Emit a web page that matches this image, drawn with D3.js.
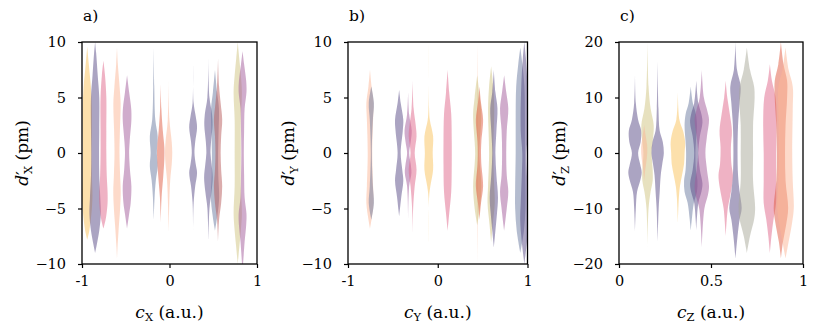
<!DOCTYPE html>
<html>
<head>
<meta charset="utf-8">
<script src="https://cdn.jsdelivr.net/npm/d3@7"></script>
<style>
  body { margin: 0; background: #fff; }
</style>
</head>
<body>
<div id="chart"></div>
<script>
// ---- data ----
var panelLabels = ["a)", "b)", "c)"];
var axisNames = ["X", "Y", "Z"];
var xDomains = [[-1, 1], [-1, 1], [0, 1]];
var yDomains = [[-10, 10], [-10, 10], [-20, 20]];
var xTicks = [[-1, 0, 1], [-1, 0, 1], [0, 0.5, 1]];
var xTickLabels = [["-1", "0", "1"], ["-1", "0", "1"], ["0", "0.5", "1"]];
var yTicks = [[-10, -5, 0, 5, 10], [-10, -5, 0, 5, 10], [-20, -10, 0, 10, 20]];

var palette = {
    yellow: "#f9c25a",
    purple: "#574a85",
    pink: "#e0668a",
    peach: "#fcb596",
    mauve: "#a25a9a",
    slate: "#6a7aa0",
    salmon: "#e05a40",
    rose: "#b85a5a",
    grey: "#a8a898",
    khaki: "#cfc480"
};

// each violin: centre on the x axis, colour, profile [[y, relative half width], ...]
var violinsA = [
    { c: -0.94, col: "yellow", p: [[9.6,0],[8,1.5],[6,3.5],[4,4.5],[2,4.5],[0,4.3],[-2,4.5],[-4,5],[-5.5,4],[-7,2],[-7.8,0]] },
    { c: -0.85, col: "purple", p: [[10,0],[9,1],[7,2.5],[5,4],[2,4],[0,3.8],[-2,4],[-4,5],[-5.5,5.5],[-7,4],[-8.3,1.5],[-9,0]] },
    { c: -0.755, col: "pink", p: [[8.3,0],[7,1.5],[5,2.8],[2,2.8],[0,2.8],[-2,3.2],[-3.5,4],[-4.5,4],[-5.8,2.5],[-6.8,0]] },
    { c: -0.6, col: "peach", p: [[9.5,0],[8,0.8],[6,2.5],[4.5,3.5],[2,2.8],[0,2.4],[-2,3],[-3.5,3.6],[-5,3],[-7,1.5],[-8.5,0.5],[-9.5,0]] },
    { c: -0.485, col: "mauve", p: [[7,0],[5.5,2],[4,4],[3,4.2],[1,2.5],[0,2],[-1.5,2.8],[-3,4.2],[-4.5,3.5],[-5.5,2],[-6.8,0]] },
    { c: -0.18, col: "slate", p: [[9.5,0],[6,0.5],[3,1.5],[1.5,3.8],[0,3],[-1.2,3.8],[-2.5,2],[-4,0.8],[-6,0]] },
    { c: -0.1, col: "salmon", p: [[6.2,0],[4,0.6],[2,2],[0.5,3.5],[-0.5,3.5],[-2,2.5],[-4,0.8],[-6.3,0]] },
    { c: -0.01, col: "peach", p: [[6.5,0],[3,0.8],[1,3],[0,3.5],[-1,3],[-2.5,1.5],[-5,0.5],[-7,0]] },
    { c: 0.27, col: "purple", p: [[8,0],[4.5,0.5],[3.3,2.5],[2.3,3.8],[1,2],[0,1.3],[-1,2.5],[-1.8,3.8],[-3,2],[-4.5,0.5],[-7,0]] },
    { c: 0.445, col: "purple", p: [[8.5,0],[5,1],[3.5,3.5],[2.5,4],[1,2.5],[0,2],[-1,3],[-2.2,4.2],[-3.5,3],[-5,1],[-7.8,0]] },
    { c: 0.52, col: "slate", p: [[7.5,0],[5.5,2],[4,3.8],[2,3.5],[0,3],[-2,3.2],[-4,4],[-5.5,2.5],[-7,0]] },
    { c: 0.555, col: "rose", p: [[8.5,0],[6,1],[4.5,2.5],[3,4],[1.5,3],[0,2.5],[-1.5,3],[-3,4],[-4.5,3],[-6,1],[-8,0]] },
    { c: 0.78, col: "khaki", p: [[10,0],[8.5,1.5],[7,3],[5.5,4],[3,3],[0,3],[-3,3],[-5.5,4],[-7,3],[-8.5,1.5],[-10,0]] },
    { c: 0.835, col: "mauve", p: [[9.2,0],[8,1.5],[6.5,3.5],[5.5,3.8],[4,2],[2,1.5],[0,1.2],[-2,1.5],[-4,2],[-5.5,3.8],[-6.5,3.5],[-8,2],[-10,0.5]] }
];

var violinsB = [
    { c: -0.755, col: "peach", p: [[7.5,0],[6,1.5],[4.5,3.5],[3,3],[0,2.2],[-3,3],[-4.5,3.5],[-6,1.5],[-6.8,0]] },
    { c: -0.74, col: "slate", p: [[6,0],[4.5,2.5],[3,1.5],[0,0.5],[-3,1.5],[-4.5,2.5],[-6,0]] },
    { c: -0.43, col: "purple", p: [[5.7,0],[4.5,1.5],[3,4],[2,3.5],[0,1.5],[-1.5,3],[-2.5,4],[-4,2],[-5.7,0]] },
    { c: -0.33, col: "mauve", p: [[5.5,0],[3.5,1],[2,3.5],[1,2.5],[0,1],[-1,2.5],[-1.8,3.2],[-3,1],[-6,0]] },
    { c: -0.28, col: "pink", p: [[6.5,0],[4,1],[2.5,3],[1.5,3.8],[0,2],[-1.5,3.8],[-3,2],[-5,0.5],[-7.5,0]] },
    { c: -0.1, col: "yellow", p: [[10,0],[4,0.3],[3,1],[1.5,4.2],[0,3.8],[-1.5,4.2],[-3,1.5],[-4,0.3],[-8,0]] },
    { c: 0.11, col: "pink", p: [[7.5,0],[5.5,1.5],[3.5,3.5],[1,4],[-1,4],[-3.5,3.5],[-5.5,1.5],[-7,0]] },
    { c: 0.445, col: "peach", p: [[9.8,0],[5,0.3],[0,0.3],[-5,0.3],[-9.8,0]] },
    { c: 0.44, col: "khaki", p: [[7,0],[5,2.5],[3.5,4],[1,2.5],[0,2],[-1,2.5],[-3,4],[-5,2.5],[-6.5,0]] },
    { c: 0.465, col: "salmon", p: [[6,0],[4.5,1.5],[3,3.5],[1,1.8],[0,1.5],[-1,1.8],[-3,3.5],[-4.5,1.5],[-6,0]] },
    { c: 0.595, col: "khaki", p: [[7.8,0],[6,2],[4,3],[0,2],[-3,3],[-4.5,3.5],[-6.5,1.5],[-8,0]] },
    { c: 0.625, col: "purple", p: [[7.5,0],[5.5,1.5],[4,3.5],[2,2.5],[0,1.5],[-2,2.5],[-4,4],[-5.5,3],[-7,1.5],[-8.5,0]] },
    { c: 0.74, col: "mauve", p: [[7,0],[5.5,2],[4,4],[2,2.5],[0,2],[-2,2.5],[-3.5,4],[-5,2.5],[-7,0]] },
    { c: 0.92, col: "slate", p: [[9.5,0],[8,2],[6,4],[3,4.5],[0,4.5],[-3,5],[-5,5],[-7,3.5],[-9,0]] },
    { c: 0.965, col: "purple", p: [[10,0],[8.5,1.5],[6,3],[2,3.5],[0,2],[-2,2.5],[-4.5,3.5],[-6,4],[-8,2.5],[-10,0]] }
];

var violinsC = [
    { c: 0.087, col: "purple", p: [[14,0],[9,0.8],[6,3],[4,6],[2,5.5],[0,3],[-2,5],[-3.5,6.5],[-5,5],[-7,2],[-10,0.8],[-14,0]] },
    { c: 0.155, col: "khaki", p: [[20,0],[12,1],[8,3],[5,6],[2,5],[0,4],[-3,5],[-5,5],[-7,3],[-10,1],[-17,0]] },
    { c: 0.137, col: "peach", p: [[5,0],[3,1.5],[1,3],[-1,2.5],[-3,1],[-5,0]] },
    { c: 0.21, col: "purple", p: [[16.5,0],[8,0.8],[4,2],[2,5],[0,6],[-2,4.5],[-4,3],[-7,2],[-10,1],[-16,0]] },
    { c: 0.32, col: "yellow", p: [[11,0],[6,1.5],[4,5],[2,7],[0,6.5],[-2,6],[-4,4],[-6,2],[-8.5,0.8],[-12.5,0]] },
    { c: 0.39, col: "slate", p: [[12,0],[9,2],[7,5],[5,6],[2,5],[0,4.5],[-3,5],[-5,6.5],[-7,6],[-9,3],[-12,1],[-14,0]] },
    { c: 0.42, col: "purple", p: [[13,0],[9,2],[7,5],[5.5,6],[3,3.5],[0,2],[-3,3.5],[-5.5,6],[-7,5],[-9,2],[-14,0]] },
    { c: 0.45, col: "mauve", p: [[15,0],[10,2],[7.5,5.5],[6,7],[3,5],[0,3.5],[-3,5],[-6,7],[-7.5,6],[-10,2.5],[-17,0]] },
    { c: 0.58, col: "pink", p: [[13,0],[10,1.5],[7,4],[4,6],[1,5],[-2,5.5],[-4,7],[-6,6],[-8,4],[-10,2],[-15,0]] },
    { c: 0.633, col: "purple", p: [[20,0],[15,1.5],[12,5],[9,4],[5,2.5],[0,2],[-4,2.5],[-7,4],[-10,6],[-12,4],[-15,2],[-19,0]] },
    { c: 0.695, col: "grey", p: [[19,0],[15,3],[12,7],[10,7.5],[5,6],[0,6],[-5,6],[-10,8],[-12,7],[-15,3],[-18,0]] },
    { c: 0.82, col: "pink", p: [[16,0],[13,2],[10,5.5],[5,6.5],[0,6],[-5,6],[-9,6],[-12,3.5],[-15,1.5],[-18,0]] },
    { c: 0.88, col: "salmon", p: [[20,0],[16,2.5],[13,6],[10,6],[5,4.5],[0,4],[-5,4.5],[-10,7],[-13,5],[-16,2],[-19,0]] },
    { c: 0.905, col: "peach", p: [[19,0],[15,3],[12,7],[8,7],[0,6.5],[-5,7],[-10,8],[-13,6],[-16,3],[-19,0]] }
];

var violinSets = [violinsA, violinsB, violinsC];

// ---- layout ----
var W = 813, H = 328;
var lefts = [82, 348, 619],
    rights = [257, 527.5, 803],
    plotTop = 42,
    plotBottom = 264;
var widthUnit = [0.0118, 0.0115, 0.0056]; // relative width -> x data units
var FONT = "'DejaVu Serif', serif";

var svg = d3.select("#chart").append("svg")
    .attr("width", W)
    .attr("height", H)
    .attr("font-family", FONT);

var defs = svg.append("defs");

violinSets.forEach(function(violins, i) {
    var x = d3.scaleLinear().domain(xDomains[i]).range([lefts[i], rights[i]]);
    var y = d3.scaleLinear().domain(yDomains[i]).range([plotBottom, plotTop]);
    var g = svg.append("g");

    defs.append("clipPath").attr("id", "clip" + i)
        .append("rect")
        .attr("x", lefts[i]).attr("y", plotTop)
        .attr("width", rights[i] - lefts[i]).attr("height", plotBottom - plotTop);

    var body = g.append("g").attr("clip-path", "url(#clip" + i + ")");

    violins.forEach(function(v) {
        var area = d3.area()
            .curve(d3.curveCatmullRom.alpha(0.5))
            .y(function(d) { return y(d[0]); })
            .x0(function(d) { return x(v.c - d[1] * widthUnit[i]); })
            .x1(function(d) { return x(v.c + d[1] * widthUnit[i]); });
        body.append("path")
            .attr("d", area(v.p))
            .attr("fill", palette[v.col])
            .attr("fill-opacity", 0.5)
            .attr("stroke", "none");
    });

    // axes
    var xAxis = d3.axisBottom(x).tickValues(xTicks[i])
        .tickFormat(function(d, k) { return xTickLabels[i][k]; })
        .tickSize(4).tickPadding(4);
    var yAxis = d3.axisLeft(y).tickValues(yTicks[i])
        .tickFormat(function(d) { return d < 0 ? "\u2212" + Math.abs(d) : d; })
        .tickSize(4).tickPadding(12);

    var gx = g.append("g").attr("transform", "translate(0," + plotBottom + ")").call(xAxis);
    var gy = g.append("g").attr("transform", "translate(" + lefts[i] + ",0)").call(yAxis);
    [gx, gy].forEach(function(a) {
        a.attr("font-family", FONT).attr("font-size", 14.5);
        a.select(".domain").remove();
        a.selectAll(".tick line").attr("stroke", "#000").attr("stroke-width", 1.2);
        a.selectAll("text").attr("fill", "#000");
    });
    gx.selectAll("text").attr("dy", "0.95em");

    g.append("rect")
        .attr("x", lefts[i]).attr("y", plotTop)
        .attr("width", rights[i] - lefts[i]).attr("height", plotBottom - plotTop)
        .attr("fill", "none").attr("stroke", "#000").attr("stroke-width", 1.3);

    // panel label
    g.append("text")
        .attr("x", lefts[i] + 1).attr("y", 21)
        .attr("font-size", 15.5)
        .text(panelLabels[i]);

    // x label: c_X (a.u.)
    var xl = g.append("text")
        .attr("x", (lefts[i] + rights[i]) / 2).attr("y", 318)
        .attr("text-anchor", "middle")
        .attr("font-size", 17);
    xl.append("tspan").attr("font-style", "italic").text("c");
    xl.append("tspan").attr("dy", 3).attr("font-size", 11.5).text(axisNames[i]);
    xl.append("tspan").attr("dy", -3).text(" (a.u.)");

    // y label: d'_X (pm)
    var yl = g.append("text")
        .attr("transform", "translate(" + (lefts[i] - 54) + "," + ((plotTop + plotBottom) / 2) + ") rotate(-90)")
        .attr("text-anchor", "middle")
        .attr("font-size", 17);
    yl.append("tspan").attr("font-style", "italic").text("d");
    yl.append("tspan").text("\u2032");
    yl.append("tspan").attr("dy", 3.5).attr("dx", -3).attr("font-size", 11.5).text(axisNames[i]);
    yl.append("tspan").attr("dy", -3.5).text(" (pm)");
});
</script>
</body>
</html>
